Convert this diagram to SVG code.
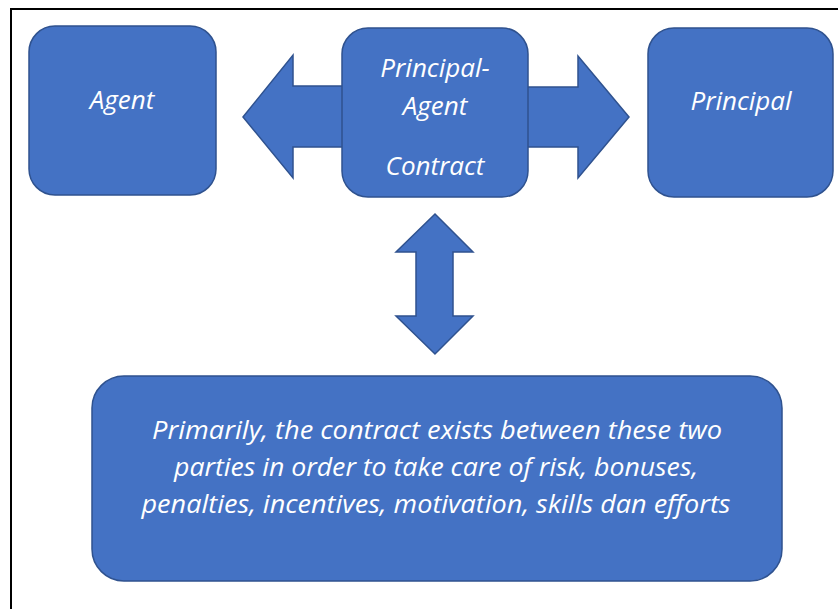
<svg xmlns="http://www.w3.org/2000/svg" width="838" height="609" viewBox="0 0 838 609">
<style>
.shape{fill:#4472C4;stroke:#2F528F;stroke-width:1.5}
.lbl{fill:#FFFFFF;font-family:"Open Sans","Noto Sans",sans-serif;font-style:italic;font-size:26px;text-anchor:middle}
.body{fill:#FFFFFF;font-family:"Open Sans","Noto Sans",sans-serif;font-style:italic;font-size:25px;text-anchor:middle}
</style>
<rect width="838" height="609" fill="#FFFFFF"/>
<g id="frame" fill="none" stroke="#000000" stroke-width="2">
<line x1="10" y1="9" x2="838" y2="9"/>
<line x1="11" y1="8" x2="11" y2="609"/>
</g>
<g id="connectors">
<path class="shape" d="M243,117 L293,55 L293,86 L343,86 L343,147 L293,147 L293,178 Z"/>
<path class="shape" d="M629,117 L578,56 L578,87 L527,87 L527,147 L578,147 L578,178 Z"/>
<path class="shape" d="M435,214 L473,252 L453,252 L453,316 L473,316 L435,354 L396,316 L416,316 L416,252 L396,252 Z"/>
</g>
<g id="agent">
<rect class="shape" x="29" y="26" width="187" height="169" rx="26"/>
<text class="lbl" x="122" y="109">Agent</text>
</g>
<g id="contract">
<rect class="shape" x="342" y="28" width="186" height="169" rx="26"/>
<text class="lbl" x="435" y="77">Principal-</text>
<text class="lbl" x="435" y="115">Agent</text>
<text class="lbl" x="435" y="175">Contract</text>
</g>
<g id="principal">
<rect class="shape" x="648" y="28" width="185" height="169" rx="26"/>
<text class="lbl" x="741" y="110">Principal</text>
</g>
<g id="description">
<rect class="shape" x="92" y="376" width="690" height="205" rx="32"/>
<text class="body" x="437" y="439" textLength="570" lengthAdjust="spacingAndGlyphs">Primarily, the contract exists between these two</text>
<text class="body" x="436" y="476" textLength="524" lengthAdjust="spacingAndGlyphs">parties in order to take care of risk, bonuses,</text>
<text class="body" x="436" y="513" textLength="589" lengthAdjust="spacingAndGlyphs">penalties, incentives, motivation, skills dan efforts</text>
</g>
</svg>
